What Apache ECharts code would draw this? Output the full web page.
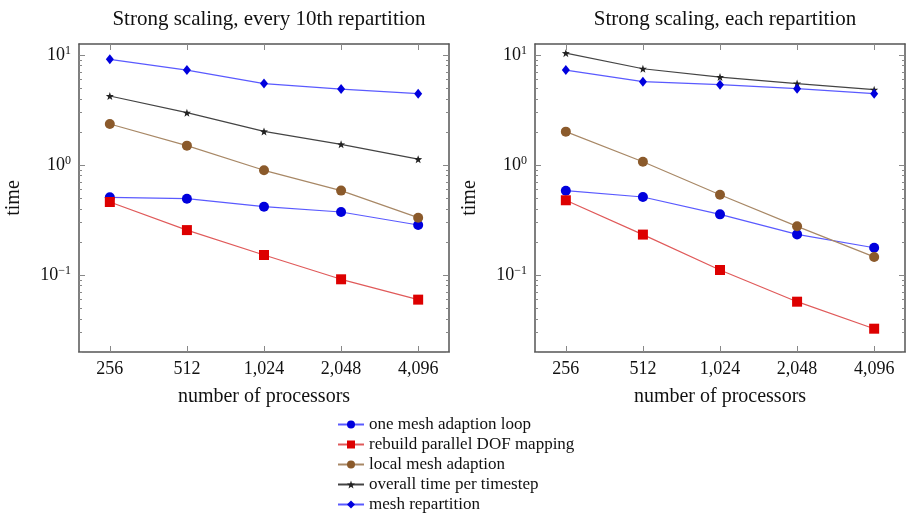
<!DOCTYPE html>
<html>
<head>
<meta charset="utf-8">
<script src="https://cdn.jsdelivr.net/npm/echarts@6/dist/echarts.min.js"></script>
<style>
  html, body { margin: 0; padding: 0; background: #fff; }
  #chart { width: 906px; height: 515px; }
</style>
</head>
<body>
<div id="chart"></div>
<script>
// data
const processors = [256, 512, 1024, 2048, 4096]
const yMajor = [0.1, 1, 10]
const yMinor = [0.02, 0.03, 0.04, 0.05, 0.06, 0.07, 0.08, 0.09,
                0.2, 0.3, 0.4, 0.5, 0.6, 0.7, 0.8, 0.9,
                2, 3, 4, 5, 6, 7, 8, 9]
const seriesNames = ['one mesh adaption loop', 'rebuild parallel DOF mapping',
                     'local mesh adaption', 'overall time per timestep', 'mesh repartition']

// left: every 10th repartition
const loopEvery10 = [0.508, 0.494, 0.418, 0.374, 0.285]
const rebuildEvery10 = [0.461, 0.256, 0.152, 0.0914, 0.0597]
const localEvery10 = [2.36, 1.50, 0.895, 0.585, 0.332]
const overallEvery10 = [4.24, 2.99, 2.02, 1.54, 1.13]
const repartEvery10 = [9.14, 7.3, 5.5, 4.9, 4.45]

// right: each repartition
const loopEach = [0.584, 0.512, 0.356, 0.234, 0.177]
const rebuildEach = [0.478, 0.233, 0.111, 0.0572, 0.0325]
const localEach = [2.01, 1.07, 0.537, 0.277, 0.146]
const overallEach = [10.4, 7.5, 6.3, 5.5, 4.84]
const repartEach = [7.3, 5.72, 5.37, 4.94, 4.45]

const font = 'Liberation Serif'
const axisColor = '#555'
const yMin = Math.pow(10, -1.7)
const yMax = Math.pow(10, 1.1)
const xMin = 256 / Math.pow(2, 0.4)
const xMax = 4096 * Math.pow(2, 0.4)

// pgfplots "star" mark, drawn as a thin filled star
const starPath = 'path://M0,-10 L2.4,-3.3 L9.5,-3.1 L3.9,1.3 L5.9,8.1 L0,4.1 L-5.9,8.1 L-3.9,1.3 L-9.5,-3.1 L-2.4,-3.3 Z'

const styles = [
  { line: '#5a5aff', mark: '#0000dd', symbol: 'circle', size: 10 },
  { line: '#e05a5a', mark: '#dd0000', symbol: 'rect', size: 10 },
  { line: '#a88866', mark: '#8b5a2b', symbol: 'circle', size: 10 },
  { line: '#444444', mark: '#222222', symbol: starPath, size: 8 },
  { line: '#5a5aff', mark: '#0000dd', symbol: 'diamond', size: [8, 10] }
]

const panels = [
  [loopEvery10, rebuildEvery10, localEvery10, overallEvery10, repartEvery10],
  [loopEach, rebuildEach, localEach, overallEach, repartEach]
]

const chart = echarts.init(document.getElementById('chart'))

const grids = [
  { left: 79, top: 44, width: 370, height: 308 },
  { left: 535, top: 44, width: 370, height: 308 }
]

const xAxes = []
const yAxes = []
const series = []

grids.forEach((g, gi) => {
  // bottom axis with labels
  xAxes.push({
    type: 'log', logBase: 2, gridIndex: gi, min: xMin, max: xMax,
    name: 'number of processors', nameLocation: 'middle', nameGap: 35,
    nameTextStyle: { fontFamily: font, fontSize: 20, color: '#111' },
    axisLine: { show: true, lineStyle: { color: axisColor, width: 1.5 } },
    axisTick: { show: true, inside: true, length: 6, customValues: processors, lineStyle: { color: '#888' } },
    axisLabel: {
      customValues: processors, margin: 8,
      fontFamily: font, fontSize: 18, color: '#111',
      formatter: v => Math.round(v).toLocaleString('en-US')
    },
    splitLine: { show: false }
  })
  // top mirrored axis
  xAxes.push({
    type: 'log', logBase: 2, gridIndex: gi, min: xMin, max: xMax, position: 'top',
    axisLine: { show: true, lineStyle: { color: axisColor, width: 1.5 } },
    axisTick: { show: true, inside: true, length: 6, customValues: processors, lineStyle: { color: '#888' } },
    axisLabel: { show: false },
    splitLine: { show: false }
  })
  const yCommon = { type: 'log', gridIndex: gi, min: yMin, max: yMax, splitLine: { show: false } }
  // left major
  yAxes.push(Object.assign({}, yCommon, {
    position: 'left',
    name: 'time', nameLocation: 'middle', nameGap: 55, nameRotate: 90,
    nameTextStyle: { fontFamily: font, fontSize: 20, color: '#111' },
    axisLine: { show: true, lineStyle: { color: axisColor, width: 1.5 } },
    axisTick: { show: true, inside: true, length: 6, customValues: yMajor, lineStyle: { color: '#888' } },
    axisLabel: {
      customValues: yMajor, margin: 8, color: '#111',
      formatter: v => '{b|10}{s|' + String(Math.round(Math.log10(v))).replace('-', '\u2212') + '}',
      rich: {
        b: { fontFamily: font, fontSize: 18, color: '#111' },
        s: { fontFamily: font, fontSize: 12, color: '#111', padding: [0, 0, 9, 0] }
      }
    }
  }))
  // left minor
  yAxes.push(Object.assign({}, yCommon, {
    position: 'left',
    axisLine: { show: false },
    axisTick: { show: true, inside: true, length: 3, customValues: yMinor, lineStyle: { color: '#888' } },
    axisLabel: { show: false }
  }))
  // right major
  yAxes.push(Object.assign({}, yCommon, {
    position: 'right',
    axisLine: { show: true, lineStyle: { color: axisColor, width: 1.5 } },
    axisTick: { show: true, inside: true, length: 6, customValues: yMajor, lineStyle: { color: '#888' } },
    axisLabel: { show: false }
  }))
  // right minor
  yAxes.push(Object.assign({}, yCommon, {
    position: 'right',
    axisLine: { show: false },
    axisTick: { show: true, inside: true, length: 3, customValues: yMinor, lineStyle: { color: '#888' } },
    axisLabel: { show: false }
  }))

  panels[gi].forEach((vals, si) => {
    const st = styles[si]
    series.push({
      name: seriesNames[si],
      type: 'line',
      xAxisIndex: gi * 2,
      yAxisIndex: gi * 4,
      data: processors.map((p, i) => [p, vals[i]]),
      symbol: st.symbol,
      symbolSize: st.size,
      showAllSymbol: true,
      lineStyle: { color: st.line, width: 1.2 },
      itemStyle: { color: st.mark },
      z: 2 + (si === 1 ? 1 : 0)
    })
  })
})

const option = {
  animation: false,
  backgroundColor: '#fff',
  title: [
    { text: 'Strong scaling, every 10th repartition', left: 264, top: 4, textAlign: 'center',
      textStyle: { fontFamily: font, fontSize: 21, fontWeight: 'normal', color: '#111' } },
    { text: 'Strong scaling, each repartition', left: 720, top: 4, textAlign: 'center',
      textStyle: { fontFamily: font, fontSize: 21, fontWeight: 'normal', color: '#111' } }
  ],
  legend: {
    orient: 'vertical', left: 337, top: 416, padding: 0,
    itemWidth: 26, itemHeight: 10, itemGap: 3,
    data: seriesNames,
    textStyle: { fontFamily: font, fontSize: 17, lineHeight: 17, color: '#111' }
  },
  grid: grids,
  xAxis: xAxes,
  yAxis: yAxes,
  series: series
}

chart.setOption(option)
</script>
</body>
</html>
